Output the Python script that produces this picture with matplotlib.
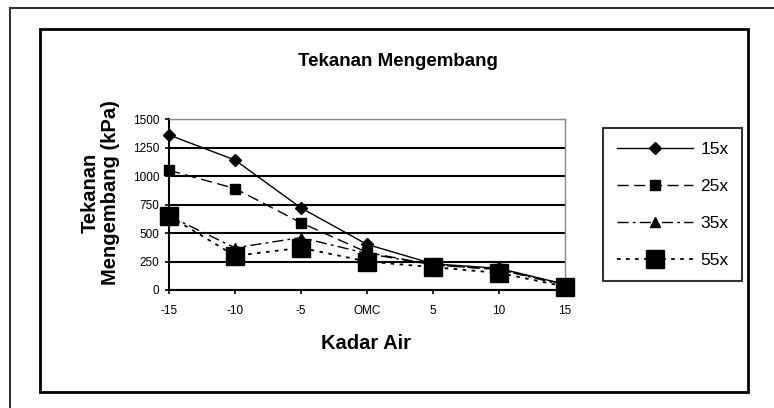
import matplotlib.pyplot as plt
from matplotlib.patches import Rectangle
from matplotlib.lines import Line2D

plt.rcParams['font.family'] = ['Liberation Sans', 'DejaVu Sans']

categories = ['-15', '-10', '-5', 'OMC', '5', '10', '15']
s15 = [1360, 1140, 720, 400, 230, 190, 50]
s25 = [1050, 890, 590, 330, 220, 180, 50]
s35 = [650, 370, 460, 320, 220, 180, 40]
s55 = [650, 300, 370, 250, 200, 150, 30]
yticks = [0, 250, 500, 750, 1000, 1250, 1500]

W, H = 774, 408
fig = plt.figure(figsize=(W / 100, H / 100), dpi=100)


def fx(px):
    return px / W


def fy(py):
    return 1 - py / H


# outer page lines (left and top only are visible)
fig.add_artist(Line2D([fx(10), fx(10)], [fy(8), 0], color='#333333', lw=1.5))
fig.add_artist(Line2D([fx(10), 1], [fy(8), fy(8)], color='#333333', lw=1.5))
# chart frame
fig.add_artist(Rectangle((fx(40), fy(392)), fx(748) - fx(40), fy(29) - fy(392),
                         fill=False, edgecolor='black', lw=2))

ax = fig.add_axes([fx(169), fy(290), fx(565) - fx(169), fy(119) - fy(290)])
x = list(range(len(categories)))

ax.plot(x, s15, color='black', lw=1, ls='-', marker='D', ms=6, label='15x', clip_on=False, zorder=5)
ax.plot(x, s25, color='black', lw=1, ls=(0, (8, 4)), marker='s', ms=7, label='25x', clip_on=False, zorder=5)
ax.plot(x, s35, color='black', lw=1, ls=(0, (8, 3, 2, 3)), marker='^', ms=7, label='35x', clip_on=False, zorder=5)
ax.plot(x, s55, color='black', lw=1.3, ls=(0, (2, 3)), marker='s', ms=13, label='55x', clip_on=False, zorder=5)

ax.set_xlim(0, 6)
ax.set_ylim(0, 1500)
ax.set_xticks(x)
ax.set_xticklabels(categories, fontsize=8.5)
ax.set_yticks(yticks)
ax.set_yticklabels([str(v) for v in yticks], fontsize=8.5)
ax.tick_params(axis='both', direction='out', length=3, width=1.2, pad=4)
ax.tick_params(axis='x', pad=8)
ax.yaxis.grid(True, color='black', lw=1.5)
ax.set_axisbelow(True)

for side in ['top', 'right']:
    ax.spines[side].set_color('#888888')
    ax.spines[side].set_linewidth(1)
for side in ['left', 'bottom']:
    ax.spines[side].set_linewidth(1.5)

ax.set_xlabel('Kadar Air', fontsize=14.5, fontweight='bold', va='top')
ax.xaxis.set_label_coords((366 - 169) / 396, (290 - 334) / 171)
ax.set_ylabel('Tekanan\nMengembang (kPa)', fontsize=14.5, fontweight='bold',
              linespacing=1.05)
ax.yaxis.set_label_coords((120 - 169) / 396, (290 - 193) / 171)
fig.text(fx(398), fy(62), 'Tekanan Mengembang', ha='center', va='center',
         fontsize=13.5, fontweight='bold')

leg = ax.legend(loc='upper left', bbox_to_anchor=(fx(603), fy(128)),
                bbox_transform=fig.transFigure, fontsize=12.5, frameon=True,
                fancybox=False, edgecolor='black', handlelength=4.4,
                labelspacing=1.25, borderpad=0.8, handletextpad=0.4,
                borderaxespad=0)
leg.get_frame().set_linewidth(1.5)

fig.savefig('out.png', dpi=100)
